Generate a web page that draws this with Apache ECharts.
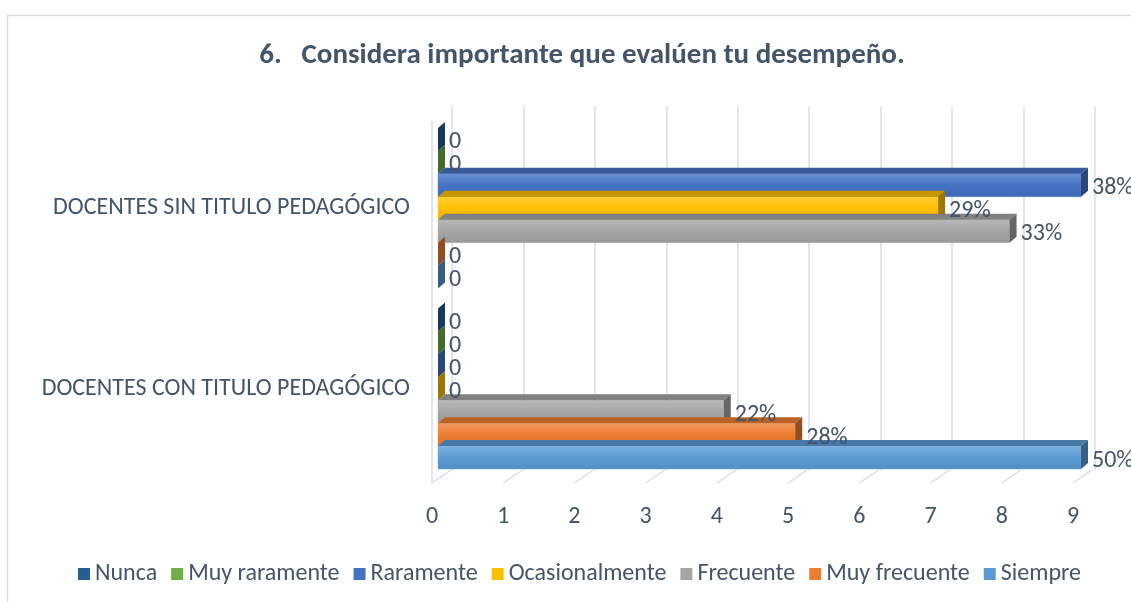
<!DOCTYPE html>
<html>

<head>
    <meta charset="UTF-8">
    <title>Considera importante que evalúen tu desempeño</title>
    <script src="https://cdn.jsdelivr.net/npm/echarts@6/dist/echarts.min.js"></script>
    <style>
        html, body { margin: 0; padding: 0; background: #fff; }
    </style>
</head>

<body>
    <div id="main" style="width: 1131px; height: 602px;"></div>

    <script>
        // categorías (de arriba hacia abajo)
        var categories = ['DOCENTES SIN TITULO PEDAGÓGICO', 'DOCENTES CON TITULO PEDAGÓGICO'];
        var seriesNames = ['Nunca', 'Muy raramente', 'Raramente', 'Ocasionalmente', 'Frecuente', 'Muy frecuente', 'Siempre'];
        var seriesColors = ['#255e91', '#70ad47', '#4472c4', '#ffc000', '#a5a5a5', '#ed7d31', '#5b9bd5'];

        // número de docentes por respuesta [sin título, con título]
        var nunca = [0, 0];
        var muyRaramente = [0, 0];
        var raramente = [9, 0];
        var ocasionalmente = [7, 0];
        var frecuente = [8, 4];
        var muyFrecuente = [0, 5];
        var siempre = [0, 9];
        var seriesValues = [nunca, muyRaramente, raramente, ocasionalmente, frecuente, muyFrecuente, siempre];

        var xTicks = [0, 1, 2, 3, 4, 5, 6, 7, 8, 9];

        var textColor = '#44546a';
        var fontFam = 'Carlito, Lato, sans-serif';
        var DX = 7, DY = 6, GAP = 0.11;

        // totales por categoría, para las etiquetas en %
        var totals = categories.map(function (c, j) {
            var s = 0;
            seriesValues.forEach(function (arr) { s += arr[j]; });
            return s;
        });

        function shade(hex, amt) {
            var n = parseInt(hex.slice(1), 16);
            var r = n >> 16, g = (n >> 8) & 255, b = n & 255;
            function f(c) {
                c = amt < 0 ? c * (1 + amt) : c + (255 - c) * amt;
                return Math.round(Math.max(0, Math.min(255, c)));
            }
            return 'rgb(' + f(r) + ',' + f(g) + ',' + f(b) + ')';
        }

        function makeRender(idx, color) {
            return function (params, api) {
                var val = api.value(0), cat = api.value(1);
                var base = api.coord([0, cat]);
                var end = api.coord([val, cat]);
                var band = api.size([0, 1])[1];
                var n = seriesNames.length;
                var barH = band * (1 - GAP) / n;
                var yTop = base[1] - barH * n / 2 + idx * barH;
                var yBot = yTop + barH;
                var x0 = base[0], x1 = end[0];
                var pct = val === 0 ? '0' : Math.round(val / totals[cat] * 100) + '%';
                var children = [];
                if (x1 > x0) {
                    children.push({
                        type: 'rect',
                        shape: { x: x0, y: yTop, width: x1 - x0, height: barH },
                        style: {
                            fill: new echarts.graphic.LinearGradient(0, 0, 0, 1, [
                                { offset: 0, color: shade(color, 0.22) },
                                { offset: 0.5, color: color },
                                { offset: 1, color: shade(color, -0.08) }
                            ]),
                            stroke: shade(color, 0.15), lineWidth: 0.5
                        }
                    });
                    children.push({
                        type: 'polygon',
                        shape: { points: [[x0, yTop], [x1, yTop], [x1 + DX, yTop - DY], [x0 + DX, yTop - DY]] },
                        style: { fill: shade(color, -0.22) }
                    });
                }
                children.push({
                    type: 'polygon',
                    shape: { points: [[x1, yTop], [x1 + DX, yTop - DY], [x1 + DX, yBot - DY], [x1, yBot]] },
                    style: { fill: shade(color, -0.38) }
                });
                children.push({
                    type: 'text',
                    z2: 100,
                    x: x1 + DX + 4,
                    y: (yTop + yBot) / 2 + 3,
                    style: {
                        text: pct, fill: textColor, fontSize: 24, fontFamily: fontFam,
                        align: 'left', verticalAlign: 'middle'
                    }
                });
                return { type: 'group', children: children };
            };
        }

        var series = seriesNames.map(function (name, i) {
            return {
                name: name,
                type: 'custom',
                xAxisIndex: 0,
                yAxisIndex: 0,
                itemStyle: { color: seriesColors[i] },
                encode: { x: 0, y: 1 },
                data: categories.map(function (c, j) { return [seriesValues[i][j], j]; }),
                renderItem: makeRender(i, seriesColors[i]),
                z: 5
            };
        });

        // líneas del piso (perspectiva)
        series.push({
            type: 'custom',
            xAxisIndex: 2,
            yAxisIndex: 2,
            silent: true,
            encode: { x: 0 },
            data: xTicks.map(function (t) { return [t]; }),
            renderItem: function (params, api) {
                var x = api.coord([api.value(0), 0])[0];
                var yb = params.coordSys.y + params.coordSys.height;
                return {
                    type: 'line',
                    shape: { x1: x, y1: yb, x2: x + 19, y2: yb - 13 },
                    style: { stroke: '#d9dde4', lineWidth: 1.5 }
                };
            },
            z: 1
        });

        var myChart = echarts.init(document.getElementById('main'), null, { renderer: 'canvas' });

        var option = {
            backgroundColor: '#fff',
            animation: false,
            title: {
                text: '6.   Considera importante que evalúen tu desempeño.',
                left: 577,
                textAlign: 'center',
                top: 36,
                textStyle: { color: textColor, fontSize: 29, fontWeight: 'bold', fontFamily: fontFam }
            },
            legend: {
                data: seriesNames,
                bottom: 16,
                left: 78,
                padding: 0,
                width: 1050,
                icon: 'rect',
                itemWidth: 12,
                itemHeight: 12,
                itemGap: 14,
                textStyle: { color: textColor, fontSize: 24, fontFamily: fontFam }
            },
            graphic: [{
                type: 'rect',
                left: 5, top: 13,
                shape: { width: 1200, height: 700 },
                style: { fill: 'none', stroke: '#d9dde3', lineWidth: 1.5 },
                silent: true
            }],
            grid: [
                { left: 438, right: 50, top: 118, bottom: 123 },
                { left: 452, right: 36, top: 106, bottom: 132 },
                { left: 432, right: 58, top: 122, bottom: 119 }
            ],
            xAxis: [
                { gridIndex: 0, type: 'value', min: 0, max: 9, interval: 1, show: false },
                {
                    gridIndex: 1, type: 'value', min: 0, max: 9, interval: 1,
                    axisLine: { show: false }, axisTick: { show: false }, axisLabel: { show: false },
                    splitLine: { show: true, lineStyle: { color: '#d9dde4', width: 1.5 } }
                },
                {
                    gridIndex: 2, type: 'value', min: 0, max: 9, interval: 1,
                    axisLine: { show: false }, axisTick: { show: false }, splitLine: { show: false },
                    axisLabel: { color: textColor, fontSize: 24, fontFamily: fontFam, margin: 22 }
                }
            ],
            yAxis: [
                {
                    gridIndex: 0, type: 'category', data: categories, inverse: true,
                    axisLine: { show: false }, axisTick: { show: false },
                    axisLabel: { color: textColor, fontSize: 24, fontFamily: fontFam, margin: 28 }
                },
                { gridIndex: 1, type: 'category', data: [''], show: false },
                {
                    gridIndex: 2, type: 'category', data: [''],
                    axisLine: { show: true, lineStyle: { color: '#d9dde4', width: 1.5 } },
                    axisTick: { show: false }, axisLabel: { show: false }
                }
            ],
            series: series
        };

        myChart.setOption(option);
    </script>
</body>

</html>
